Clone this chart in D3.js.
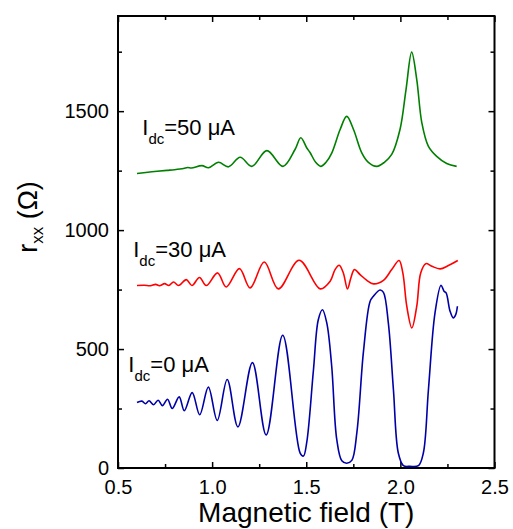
<!DOCTYPE html>
<html>
<head>
<meta charset="utf-8">
<script src="https://cdn.jsdelivr.net/npm/d3@7"></script>
<style>
  body { margin: 0; background: #fff; }
  text { font-family: "Liberation Sans", Arial, sans-serif; fill: #000; }
</style>
</head>
<body>
<script>
// Idc = 0 uA (blue)
var field0 = [0.601, 0.627, 0.646, 0.665, 0.689, 0.713, 0.736, 0.763, 0.788, 0.825, 0.852, 0.894, 0.934, 0.980, 1.027, 1.080, 1.137, 1.214, 1.287, 1.375, 1.467, 1.485, 1.503, 1.538, 1.564, 1.586, 1.609, 1.635, 1.662, 1.689, 1.715, 1.742, 1.769, 1.804, 1.839, 1.857, 1.892, 1.910, 1.936, 1.963, 1.989, 2.016, 2.051, 2.096, 2.122, 2.149, 2.184, 2.216, 2.232, 2.243, 2.264, 2.281, 2.294, 2.303];
var rxx0 = [275, 281, 270, 283, 266, 285, 262, 289, 250, 299, 241, 317, 224, 340, 200, 372, 173, 443, 139, 558, 64, 50, 110, 410, 623, 665, 610, 430, 120, 30, 20, 32, 150, 490, 700, 722, 748, 738, 610, 330, 63, 10, 7, 10, 63, 329, 652, 768, 743, 736, 659, 631, 645, 680];

// Idc = 30 uA (red)
var field30 = [0.601, 0.640, 0.672, 0.700, 0.720, 0.748, 0.770, 0.795, 0.822, 0.863, 0.893, 0.933, 0.969, 1.029, 1.075, 1.145, 1.202, 1.277, 1.352, 1.462, 1.574, 1.627, 1.653, 1.675, 1.697, 1.719, 1.737, 1.756, 1.786, 1.822, 1.857, 1.910, 1.954, 1.993, 2.013, 2.034, 2.061, 2.087, 2.108, 2.135, 2.167, 2.211, 2.255, 2.305];
var rxx30 = [767, 768, 766, 772, 766, 775, 767, 782, 767, 792, 767, 801, 767, 820, 761, 838, 757, 866, 753, 873, 753, 785, 834, 852, 820, 753, 799, 834, 813, 789, 774, 789, 834, 872, 820, 680, 589, 680, 820, 859, 848, 837, 851, 872];

// Idc = 50 uA (green)
var field50 = [0.601, 0.680, 0.760, 0.800, 0.848, 0.870, 0.890, 0.946, 0.981, 1.034, 1.087, 1.149, 1.211, 1.291, 1.376, 1.441, 1.471, 1.503, 1.521, 1.550, 1.577, 1.605, 1.636, 1.680, 1.715, 1.751, 1.795, 1.830, 1.875, 1.915, 1.954, 1.998, 2.030, 2.060, 2.087, 2.114, 2.149, 2.193, 2.246, 2.299];
var rxx50 = [1238, 1245, 1251, 1254, 1259, 1263, 1261, 1271, 1262, 1285, 1266, 1306, 1268, 1334, 1268, 1340, 1388, 1345, 1325, 1285, 1268, 1285, 1325, 1423, 1478, 1423, 1325, 1285, 1268, 1285, 1318, 1423, 1591, 1748, 1633, 1451, 1352, 1310, 1280, 1268];

var xTicks = [0.5, 1.0, 1.5, 2.0, 2.5];
var xMinor = [0.75, 1.25, 1.75, 2.25];
var yTicks = [0, 500, 1000, 1500];
var yMinor = [250, 750, 1250, 1750];

var seriesNames = ["0", "30", "50"];
var seriesColors = ["#0000a8", "#ff0000", "#008000"];
var labelField = [0.555, 0.581, 0.629]; // where the Idc labels sit (data units)
var labelRxx = [405, 886, 1401];

var w = 513;
var h = 529;
var mLeft = 118, mRight = 494.5, mTop = 16, mBottom = 468; // plot box in pixels

var svg = d3.select("body")
            .append("svg")
            .attr("width", w)
            .attr("height", h);

var x = d3.scaleLinear().domain([0.5, 2.5]).range([mLeft, mRight]);
var y = d3.scaleLinear().domain([0, 1900]).range([mBottom, mTop]);

// axes, ticks point inward on all four sides
function styleAxis(g) {
  g.select(".domain").remove();
  g.selectAll("line").attr("stroke", "#000").attr("stroke-width", 1.5);
  g.selectAll("text").style("font-size", "20px").style("font-family", "'Liberation Sans', Arial, sans-serif").attr("fill", "#000");
}

svg.append("g").attr("transform", "translate(0," + mBottom + ")")
   .call(d3.axisBottom(x).tickValues(xTicks).tickSize(-6).tickPadding(12).tickFormat(d3.format(".1f")))
   .call(styleAxis);
svg.append("g").attr("transform", "translate(0," + mBottom + ")")
   .call(d3.axisBottom(x).tickValues(xMinor).tickSize(-4).tickFormat(""))
   .call(styleAxis);
svg.append("g").attr("transform", "translate(0," + mTop + ")")
   .call(d3.axisTop(x).tickValues(xTicks).tickSize(-6).tickFormat(""))
   .call(styleAxis);
svg.append("g").attr("transform", "translate(0," + mTop + ")")
   .call(d3.axisTop(x).tickValues(xMinor).tickSize(-4).tickFormat(""))
   .call(styleAxis);

svg.append("g").attr("transform", "translate(" + mLeft + ",0)")
   .call(d3.axisLeft(y).tickValues(yTicks).tickSize(-6).tickPadding(9).tickFormat(d3.format("d")))
   .call(styleAxis);
svg.append("g").attr("transform", "translate(" + mLeft + ",0)")
   .call(d3.axisLeft(y).tickValues(yMinor).tickSize(-4).tickFormat(""))
   .call(styleAxis);
svg.append("g").attr("transform", "translate(" + mRight + ",0)")
   .call(d3.axisRight(y).tickValues(yTicks).tickSize(-6).tickFormat(""))
   .call(styleAxis);
svg.append("g").attr("transform", "translate(" + mRight + ",0)")
   .call(d3.axisRight(y).tickValues(yMinor).tickSize(-4).tickFormat(""))
   .call(styleAxis);

// frame
svg.append("rect")
   .attr("x", mLeft).attr("y", mTop)
   .attr("width", mRight - mLeft).attr("height", mBottom - mTop)
   .attr("fill", "none").attr("stroke", "#000").attr("stroke-width", 2);

// the three traces
var line = d3.line()
             .x(function(d) { return x(d[0]); })
             .y(function(d) { return y(d[1]); })
             .curve(d3.curveCatmullRom.alpha(0.5));

var traces = [d3.zip(field0, rxx0), d3.zip(field30, rxx30), d3.zip(field50, rxx50)];

svg.selectAll("path.trace")
   .data(traces)
   .enter()
   .append("path")
   .attr("class", "trace")
   .attr("d", line)
   .attr("fill", "none")
   .attr("stroke", function(d, i) { return seriesColors[i]; })
   .attr("stroke-width", 1.6);

// Idc labels
var labels = svg.selectAll("text.idc")
                .data(seriesNames)
                .enter()
                .append("text")
                .attr("class", "idc")
                .attr("x", function(d, i) { return x(labelField[i]); })
                .attr("y", function(d, i) { return y(labelRxx[i]); })
                .style("font-size", "22px");
labels.append("tspan").text("I");
labels.append("tspan").attr("dy", 9).style("font-size", "15px").text("dc");
labels.append("tspan").attr("dy", -9).text(function(d) { return "=" + d + " \u03bcA"; });

// axis titles
svg.append("text")
   .attr("x", (mLeft + mRight) / 2)
   .attr("y", 522)
   .attr("text-anchor", "middle")
   .style("font-size", "28px")
   .text("Magnetic field (T)");

var yt = svg.append("text")
            .attr("transform", "translate(37,217) rotate(-90)")
            .attr("text-anchor", "middle")
            .style("font-size", "27px");
yt.append("tspan").text("r");
yt.append("tspan").attr("dy", 6).style("font-size", "17px").text("xx");
yt.append("tspan").attr("dy", -6).text(" (\u03a9)");
</script>
</body>
</html>
